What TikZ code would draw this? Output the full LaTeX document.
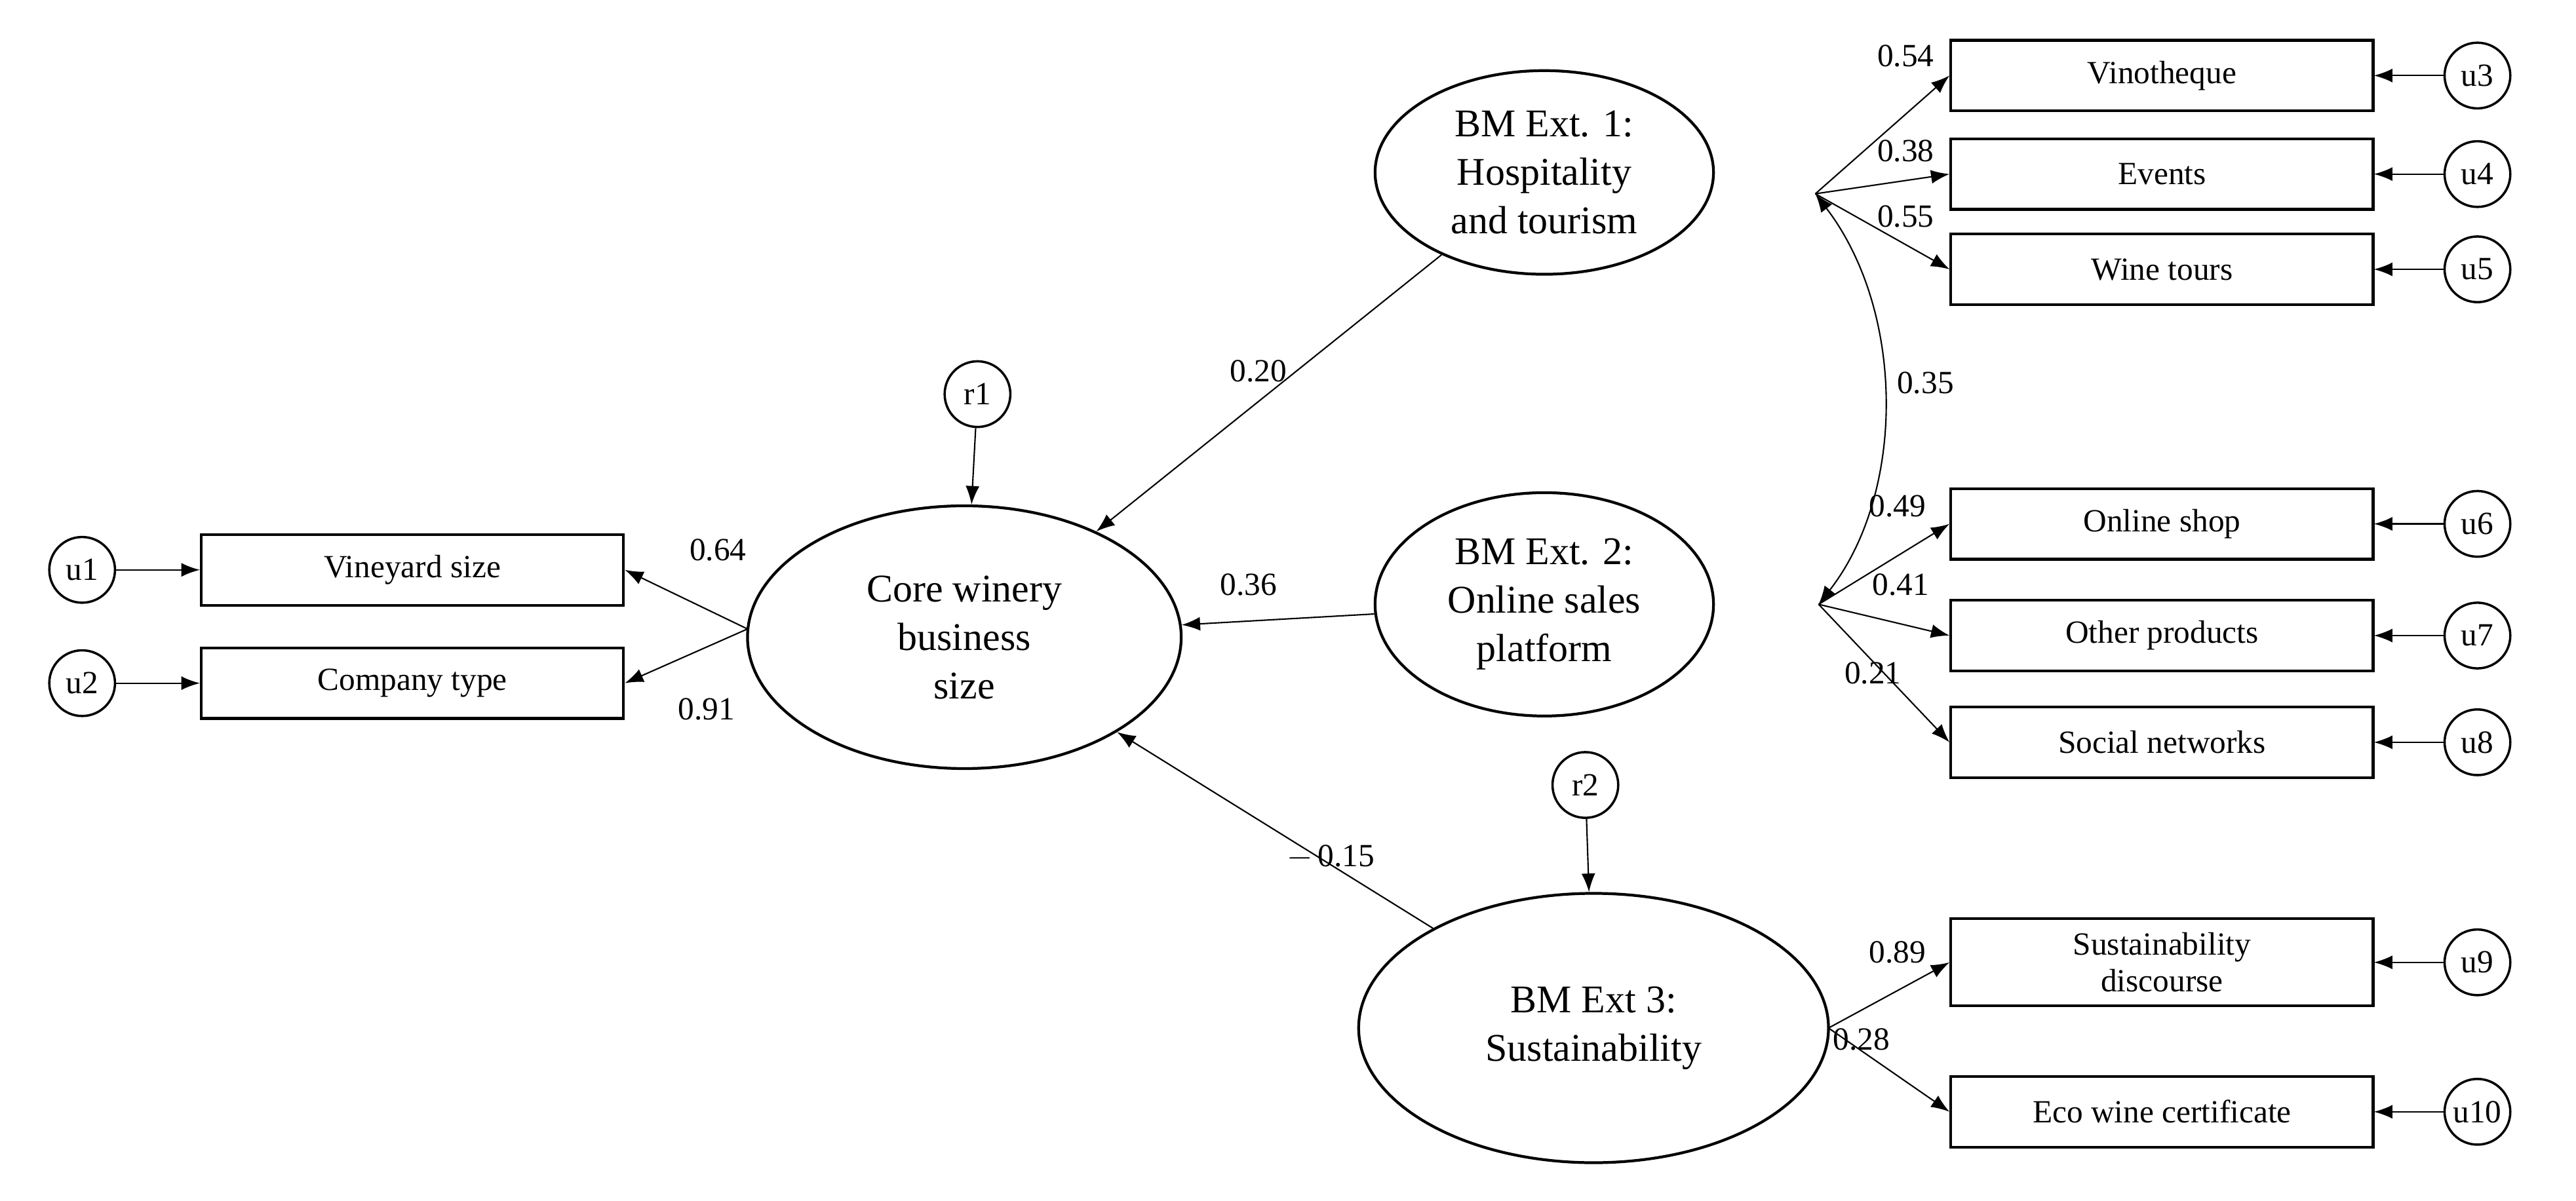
\documentclass[tikz,border=0pt]{standalone}
\usepackage{fontspec}
\setmainfont{Liberation Serif}
\usetikzlibrary{shapes.geometric,arrows.meta}
\begin{document}
\begin{tikzpicture}[x=0.025cm,y=-0.025cm,
 lat/.style={ellipse,draw,line width=1.2pt,align=center,font=\fontsize{17}{21}\selectfont,inner sep=0pt},
 obs/.style={draw,line width=1.2pt,minimum width=257*0.025cm,minimum height=43*0.025cm,align=center,font=\fontsize{14}{15}\selectfont,inner sep=1pt},
 err/.style={circle,draw,line width=1pt,minimum size=40*0.025cm,inner sep=0pt,font=\fontsize{14}{15}\selectfont},
 ar/.style={-{Latex[length=8pt,width=6pt]},line width=0.6pt},
 lb/.style={font=\fontsize{14}{15}\selectfont}]
\useasboundingbox (0,0) rectangle (1568,731);
\node[lat,minimum width=264*0.025cm,minimum height=160*0.025cm] (core) at (587,388) {Core winery\\business\\size};
\node[lat,minimum width=206*0.025cm,minimum height=124*0.025cm] (b1) at (940,105) {BM Ext. 1:\\Hospitality\\and tourism};
\node[lat,minimum width=206*0.025cm,minimum height=136*0.025cm] (b2) at (940,368) {BM Ext. 2:\\Online sales\\platform};
\node[lat,minimum width=286*0.025cm,minimum height=164*0.025cm] (b3) at (970,626) {BM Ext 3:\\Sustainability};
\node[obs] (vs) at (251,347) {Vineyard size};
\node[obs] (ct) at (251,416) {Company type};
\node[obs] (v1) at (1316,46) {Vinotheque};
\node[obs] (v2) at (1316,106) {Events};
\node[obs] (v3) at (1316,164) {Wine tours};
\node[obs] (v4) at (1316,319) {Online shop};
\node[obs] (v5) at (1316,387) {Other products};
\node[obs] (v6) at (1316,452) {Social networks};
\node[obs,minimum height=53*0.025cm,font=\fontsize{14}{16}\selectfont] (v7) at (1316,586) {Sustainability\\discourse};
\node[obs] (v8) at (1316,677) {Eco wine certificate};
\foreach \n/\y in {3/46,4/106,5/164,6/319,7/387,8/452,9/586,10/677}{
 \node[err] (u\n) at (1508,\y) {u\n};
 \draw[ar] (u\n) -- (1445,\y);}
\node[err] (u1) at (50,347) {u1};
\node[err] (u2) at (50,416) {u2};
\draw[ar] (u1) -- (vs);
\draw[ar] (u2) -- (ct);
\node[err] (r1) at (595,240) {r1};
\node[err] (r2) at (965,478) {r2};
\draw[ar] (r1) -- (core);
\draw[ar] (r2) -- (b3);
\coordinate (cl) at (455,383);
\draw[ar] (cl) -- (vs.east);
\draw[ar] (cl) -- (ct.east);
\draw[ar] (b1) -- (core);
\draw[ar] (b2) -- (core);
\draw[ar] (b3) -- (core);
\coordinate (p1) at (1105,118);
\coordinate (p2) at (1107,368);
\coordinate (p3) at (1113,626);
\foreach \t in {v1,v2,v3} \draw[ar] (p1) -- (\t.west);
\foreach \t in {v4,v5,v6} \draw[ar] (p2) -- (\t.west);
\foreach \t in {v7,v8} \draw[ar] (p3) -- (\t.west);
\draw[{Latex[length=8pt,width=6pt]}-{Latex[length=8pt,width=6pt]},line width=0.6pt] (p1) .. controls (1160,190) and (1160,300) .. (p2);
\node[lb] at (437,335) {0.64};
\node[lb] at (430,432) {0.91};
\node[lb] at (766,226) {0.20};
\node[lb] at (760,356) {0.36};
\node[lb] at (810,522) {$-$\,0.15};
\node[lb] at (1160,34) {0.54};
\node[lb] at (1160,92) {0.38};
\node[lb] at (1160,132) {0.55};
\node[lb] at (1172,233) {0.35};
\node[lb] at (1155,308) {0.49};
\node[lb] at (1157,356) {0.41};
\node[lb] at (1140,410) {0.21};
\node[lb] at (1155,580) {0.89};
\node[lb] at (1133,633) {0.28};
\end{tikzpicture}
\end{document}
